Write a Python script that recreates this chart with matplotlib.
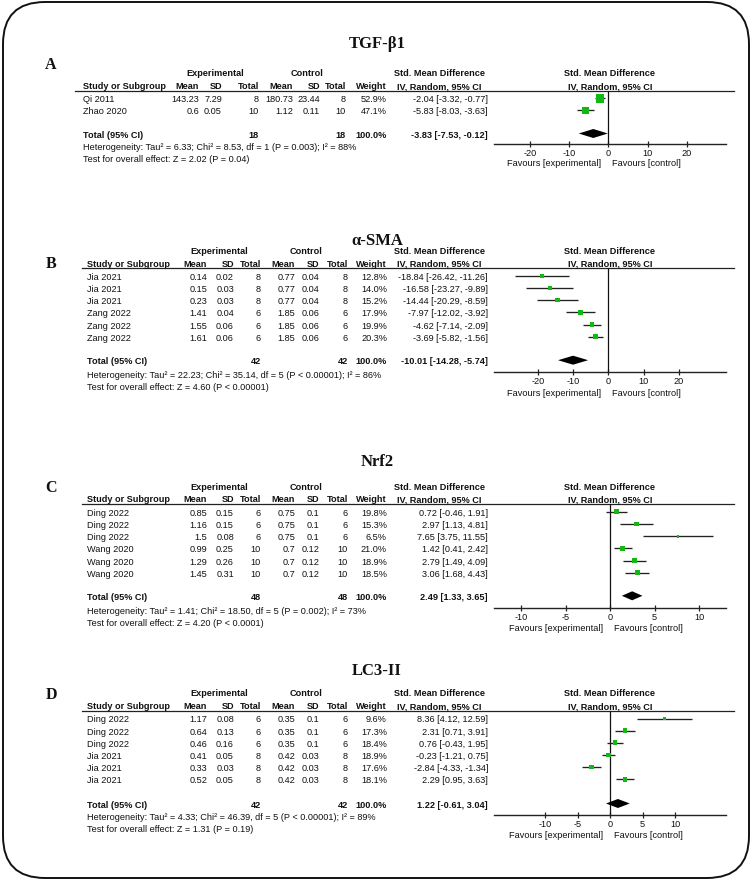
import math
import matplotlib
matplotlib.use('Agg')
import matplotlib.pyplot as plt
from matplotlib.patches import FancyBboxPatch

plt.rcParams['font.family'] = ['Liberation Sans', 'DejaVu Sans']
plt.rcParams['axes.unicode_minus'] = False

W, H, DPI = 752, 882, 100

# ---------------- data ----------------
# Panel A: TGF-beta1
tgf_studies = ["Qi 2011", "Zhao 2020"]
tgf_exp_mean = [143.23, 0.6]
tgf_exp_sd = [7.29, 0.05]
tgf_exp_n = [8, 10]
tgf_ctl_mean = [180.73, 1.12]
tgf_ctl_sd = [23.44, 0.11]
tgf_ctl_n = [8, 10]
tgf_weight = [52.9, 47.1]
tgf_smd = [-2.04, -5.83]
tgf_lo = [-3.32, -8.03]
tgf_hi = [-0.77, -3.63]
tgf_total = [-3.83, -7.53, -0.12]
tgf_het = "Heterogeneity: Tau² = 6.33; Chi² = 8.53, df = 1 (P = 0.003); I² = 88%"
tgf_test = "Test for overall effect: Z = 2.02 (P = 0.04)"
tgf_ticks = [-20, -10, 0, 10, 20]

# Panel B: alpha-SMA
sma_studies = ["Jia 2021", "Jia 2021", "Jia 2021", "Zang 2022", "Zang 2022", "Zang 2022"]
sma_exp_mean = [0.14, 0.15, 0.23, 1.41, 1.55, 1.61]
sma_exp_sd = [0.02, 0.03, 0.03, 0.04, 0.06, 0.06]
sma_exp_n = [8, 8, 8, 6, 6, 6]
sma_ctl_mean = [0.77, 0.77, 0.77, 1.85, 1.85, 1.85]
sma_ctl_sd = [0.04, 0.04, 0.04, 0.06, 0.06, 0.06]
sma_ctl_n = [8, 8, 8, 6, 6, 6]
sma_weight = [12.8, 14.0, 15.2, 17.9, 19.9, 20.3]
sma_smd = [-18.84, -16.58, -14.44, -7.97, -4.62, -3.69]
sma_lo = [-26.42, -23.27, -20.29, -12.02, -7.14, -5.82]
sma_hi = [-11.26, -9.89, -8.59, -3.92, -2.09, -1.56]
sma_total = [-10.01, -14.28, -5.74]
sma_het = "Heterogeneity: Tau² = 22.23; Chi² = 35.14, df = 5 (P < 0.00001); I² = 86%"
sma_test = "Test for overall effect: Z = 4.60 (P < 0.00001)"
sma_ticks = [-20, -10, 0, 10, 20]

# Panel C: Nrf2
nrf_studies = ["Ding 2022", "Ding 2022", "Ding 2022", "Wang 2020", "Wang 2020", "Wang 2020"]
nrf_exp_mean = [0.85, 1.16, 1.5, 0.99, 1.29, 1.45]
nrf_exp_sd = [0.15, 0.15, 0.08, 0.25, 0.26, 0.31]
nrf_exp_n = [6, 6, 6, 10, 10, 10]
nrf_ctl_mean = [0.75, 0.75, 0.75, 0.7, 0.7, 0.7]
nrf_ctl_sd = [0.1, 0.1, 0.1, 0.12, 0.12, 0.12]
nrf_ctl_n = [6, 6, 6, 10, 10, 10]
nrf_weight = [19.8, 15.3, 6.5, 21.0, 18.9, 18.5]
nrf_smd = [0.72, 2.97, 7.65, 1.42, 2.79, 3.06]
nrf_lo = [-0.46, 1.13, 3.75, 0.41, 1.49, 1.68]
nrf_hi = [1.91, 4.81, 11.55, 2.42, 4.09, 4.43]
nrf_total = [2.49, 1.33, 3.65]
nrf_het = "Heterogeneity: Tau² = 1.41; Chi² = 18.50, df = 5 (P = 0.002); I² = 73%"
nrf_test = "Test for overall effect: Z = 4.20 (P < 0.0001)"
nrf_ticks = [-10, -5, 0, 5, 10]

# Panel D: LC3-II
lc3_studies = ["Ding 2022", "Ding 2022", "Ding 2022", "Jia 2021", "Jia 2021", "Jia 2021"]
lc3_exp_mean = [1.17, 0.64, 0.46, 0.41, 0.33, 0.52]
lc3_exp_sd = [0.08, 0.13, 0.16, 0.05, 0.03, 0.05]
lc3_exp_n = [6, 6, 6, 8, 8, 8]
lc3_ctl_mean = [0.35, 0.35, 0.35, 0.42, 0.42, 0.42]
lc3_ctl_sd = [0.1, 0.1, 0.1, 0.03, 0.03, 0.03]
lc3_ctl_n = [6, 6, 6, 8, 8, 8]
lc3_weight = [9.6, 17.3, 18.4, 18.9, 17.6, 18.1]
lc3_smd = [8.36, 2.31, 0.76, -0.23, -2.84, 2.29]
lc3_lo = [4.12, 0.71, -0.43, -1.21, -4.33, 0.95]
lc3_hi = [12.59, 3.91, 1.95, 0.75, -1.34, 3.63]
lc3_total = [1.22, -0.61, 3.04]
lc3_het = "Heterogeneity: Tau² = 4.33; Chi² = 46.39, df = 5 (P < 0.00001); I² = 89%"
lc3_test = "Test for overall effect: Z = 1.31 (P = 0.19)"
lc3_ticks = [-10, -5, 0, 5, 10]

titles = ["TGF-β1", "α-SMA", "Nrf2", "LC3-II"]
letters = ["A", "B", "C", "D"]

# ---------------- layout (pixels) ----------------
cols_a = [199, 222, 259, 293, 320, 346, 387, 488]
cols_b = [207, 234, 261, 295, 319, 348, 387, 488]
layouts = [
    dict(title=44, letter=65, h1=74, line=90.5, row0=100, dy=11.8, total=135, het=148, test=159.5,
         axis=143.7, fav=164, x0=608.3, scale=3.92, label_x=83, cols=cols_a, exp_c=215, ctl_c=307, ls=75),
    dict(title=241, letter=264, h1=252, line=268, row0=277.5, dy=12.15, total=361.7, het=375.5, test=387.3,
         axis=371.7, fav=393.3, x0=608.3, scale=3.52, label_x=87, cols=cols_b, exp_c=219, ctl_c=306, ls=82),
    dict(title=462, letter=487.5, h1=487.5, line=503.5, row0=513.3, dy=12.2, total=597.3, het=611.7, test=623.5,
         axis=607.7, fav=628.5, x0=610, scale=8.9, label_x=87, cols=cols_b, exp_c=219, ctl_c=306, ls=82),
    dict(title=671, letter=695, h1=694, line=710.5, row0=720, dy=12.15, total=805, het=817.7, test=829.5,
         axis=815, fav=835, x0=610, scale=6.5, label_x=87, cols=cols_b, exp_c=219, ctl_c=306, ls=82),
]

panels = [
    (tgf_studies, tgf_exp_mean, tgf_exp_sd, tgf_exp_n, tgf_ctl_mean, tgf_ctl_sd, tgf_ctl_n,
     tgf_weight, tgf_smd, tgf_lo, tgf_hi, tgf_total, tgf_het, tgf_test, tgf_ticks),
    (sma_studies, sma_exp_mean, sma_exp_sd, sma_exp_n, sma_ctl_mean, sma_ctl_sd, sma_ctl_n,
     sma_weight, sma_smd, sma_lo, sma_hi, sma_total, sma_het, sma_test, sma_ticks),
    (nrf_studies, nrf_exp_mean, nrf_exp_sd, nrf_exp_n, nrf_ctl_mean, nrf_ctl_sd, nrf_ctl_n,
     nrf_weight, nrf_smd, nrf_lo, nrf_hi, nrf_total, nrf_het, nrf_test, nrf_ticks),
    (lc3_studies, lc3_exp_mean, lc3_exp_sd, lc3_exp_n, lc3_ctl_mean, lc3_ctl_sd, lc3_ctl_n,
     lc3_weight, lc3_smd, lc3_lo, lc3_hi, lc3_total, lc3_het, lc3_test, lc3_ticks),
]

FS = 6.6
TXT = '#111111'
GREEN = '#14b814'
X_LEFT, X_RIGHT = 494, 726

fig = plt.figure(figsize=(W / DPI, H / DPI), dpi=DPI)
fig.patch.set_facecolor('white')
ov = fig.add_axes([0, 0, 1, 1])
ov.set_xlim(0, W)
ov.set_ylim(H, 0)
ov.axis('off')


def T(x, y, s, ha='left', bold=False, size=FS, va='center', **kw):
    ov.text(x, y, s, ha=ha, va=va, fontsize=size,
            fontweight='bold' if bold else 'normal', color=TXT, **kw)


def fmt(v):
    return f"{v:g}"


def ci(e, l, h):
    return f"{e:.2f} [{l:.2f}, {h:.2f}]"


for p, L, title, letter in zip(panels, layouts, titles, letters):
    (studies, em, esd, en, cm, csd, cn, wt, smd, lo, hi, tot, het, test, ticks) = p
    c = L['cols']
    h2 = L['line'] - 1.2  # baseline of the underlined header row
    # titles
    ov.text(377, L['title'], title, ha='center', va='center', fontsize=12, fontweight='bold',
            family=['Liberation Serif', 'DejaVu Serif'], color='#111111')
    ov.text(51, L['letter'], letter, ha='center', va='center', fontsize=11.5, fontweight='bold',
            family=['Liberation Serif', 'DejaVu Serif'], color='#111111')
    # headers
    T(L['exp_c'], L['h1'], "Experimental", ha='center', bold=True)
    T(L['ctl_c'], L['h1'], "Control", ha='center', bold=True)
    T(439, L['h1'], "Std. Mean Difference", ha='center', bold=True)
    T(610, L['h1'], "Std. Mean Difference", ha='center', bold=True)
    T(L['label_x'], h2, "Study or Subgroup", bold=True, va='baseline')
    for xx, s in zip(c[:7], ["Mean", "SD", "Total", "Mean", "SD", "Total", "Weight"]):
        T(xx, h2, s, ha='right', bold=True, va='baseline')
    T(439, h2, "IV, Random, 95% CI", ha='center', bold=True, va='baseline')
    T(610, h2, "IV, Random, 95% CI", ha='center', bold=True, va='baseline')
    ov.plot([L['ls'], 734], [L['line'], L['line']], color='#222222', lw=0.9)
    # rows
    ys = [L['row0'] + i * L['dy'] for i in range(len(studies))]
    for i, y in enumerate(ys):
        T(L['label_x'], y, studies[i])
        vals = [fmt(em[i]), fmt(esd[i]), str(en[i]), fmt(cm[i]), fmt(csd[i]), str(cn[i]),
                f"{wt[i]:.1f}%", ci(smd[i], lo[i], hi[i])]
        for xx, s in zip(c, vals):
            T(xx, y, s, ha='right')
    # total
    T(L['label_x'], L['total'], "Total (95% CI)", bold=True)
    T(c[2], L['total'], str(sum(en)), ha='right', bold=True)
    T(c[5], L['total'], str(sum(cn)), ha='right', bold=True)
    T(c[6], L['total'], "100.0%", ha='right', bold=True)
    T(c[7], L['total'], ci(*tot), ha='right', bold=True)
    T(L['label_x'], L['het'], het)
    T(L['label_x'], L['test'], test)

    # forest plot axes
    ax = fig.add_axes([X_LEFT / W, 1 - L['axis'] / H, (X_RIGHT - X_LEFT) / W, (L['axis'] - L['line']) / H])
    ax.set_xlim((X_LEFT - L['x0']) / L['scale'], (X_RIGHT - L['x0']) / L['scale'])
    ax.set_ylim(L['axis'], L['line'])
    ax.patch.set_alpha(0)
    for sp in ['top', 'right', 'left']:
        ax.spines[sp].set_visible(False)
    ax.spines['bottom'].set_linewidth(1.0)
    ax.spines['bottom'].set_color('#222222')
    ax.set_yticks([])
    ax.set_xticks(ticks)
    ax.set_xticklabels([str(t) for t in ticks])
    ax.tick_params(axis='x', direction='inout', length=5, width=0.9, pad=1.2,
                   labelsize=FS, colors='#222222', labelcolor=TXT)
    ax.axvline(0, color='#111111', lw=0.9)
    my = [y - 1.5 for y in ys]
    ax.hlines(my, lo, hi, color='#222222', lw=0.95, zorder=2)
    sizes = [(math.sqrt(w) * 1.1 * 0.72) ** 2 for w in wt]
    ax.scatter(smd, my, marker='s', s=sizes, color=GREEN, linewidths=0, zorder=3)
    ty = L['total'] - 1.5
    est, tlo, thi = tot
    ax.fill([tlo, est, thi, est], [ty, ty - 4.5, ty, ty + 4.5], color='#000000', lw=0, zorder=3)

    # favours labels
    T(L['x0'] - 7, L['fav'], "Favours [experimental]", ha='right')
    T(L['x0'] + 4, L['fav'], "Favours [control]", ha='left')

# outer rounded frame
frame = FancyBboxPatch((3, 2), 746, 876, boxstyle='round,pad=0,rounding_size=42',
                       fill=False, lw=1.4, ec='#111111')
ov.add_patch(frame)

fig.savefig('out.png', dpi=DPI)
